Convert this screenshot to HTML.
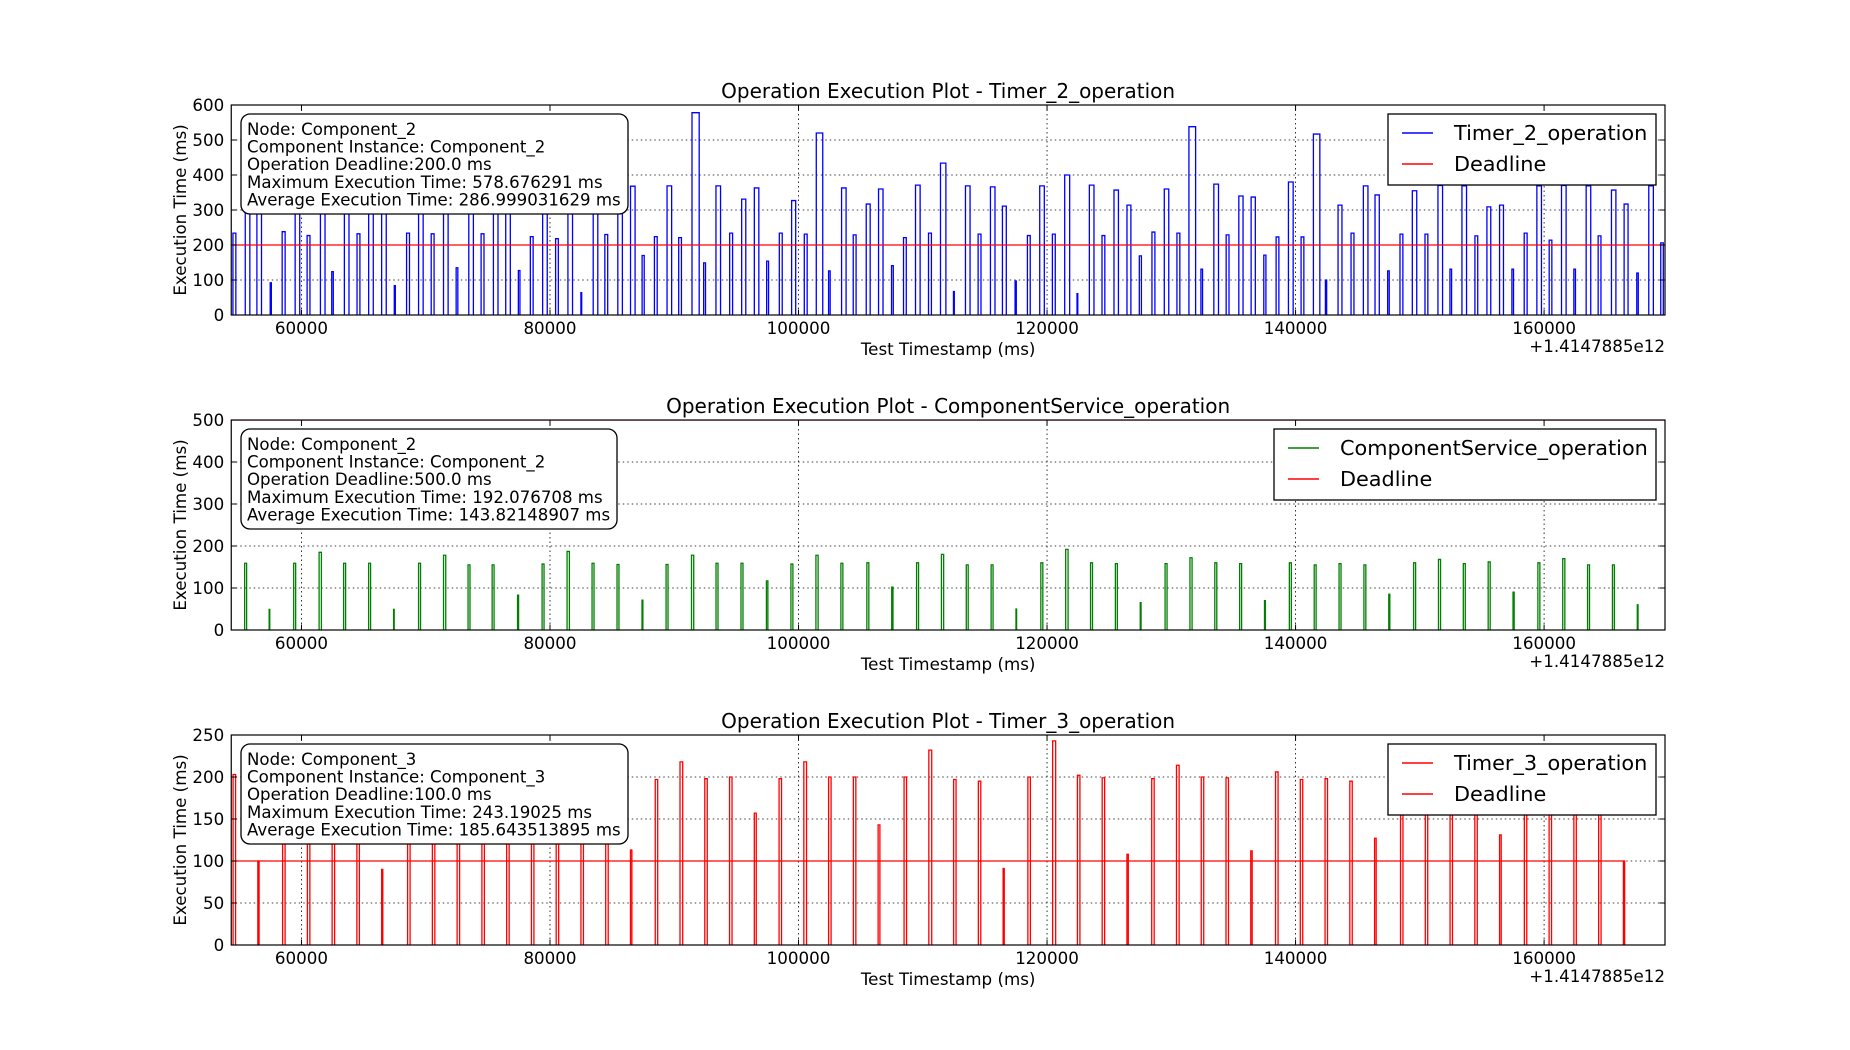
<!DOCTYPE html>
<html><head><meta charset="utf-8">
<style>
html,body{margin:0;padding:0;background:#fff;}
svg{display:block;font-family:"DejaVu Sans","Liberation Sans",sans-serif;}
</style></head>
<body>
<svg id="fig" width="1850" height="1050" viewBox="0 0 1850 1050" xmlns="http://www.w3.org/2000/svg"></svg>
<script>
// ---------- DATA ----------
const xTickValues = [60000, 80000, 100000, 120000, 140000, 160000];
const xTickLabels = ["60000", "80000", "100000", "120000", "140000", "160000"];

const t2Times = [54485,55476,56413,57484,58447,59491,60455,61526,62436,63453,64471,65408,66452,67469,68459,69423,70440,71431,72448,73465,74456,75446,76437,77454,78418,79408,80452,81443,82487,83477,84414,85458,86480,87412,88403,89420,90357,91428,92365,93356,94460,95425,96444,97435,98454,99445,100464,101429,102420,103465,104403,105449,106440,107485,108450,109415,110460,111425,112470,113435,114453,115445,116410,117428,118420,119411,120430,121421,122413,123405,124423,125388,126433,127425,128443,129435,130453,131418,132383,133423,134414,135433,136424,137443,138434,139426,140444,141436,142401,143419,144464,145456,146394,147412,148404,149396,150414,151459,152424,153389,154434,155399,156417,157409,158400,159419,160410,161402,162394,163385,164350,165422,166440,167459,168424,169388];
const t2Values = [234,370,370,92,238,370,227,370,124,370,232,370,370,84,234,370,232,370,135,370,232,370,370,127,224,370,218,370,64,370,230,367,368,170,224,369,221,578,149,369,234,331,363,154,234,327,231,520,126,363,229,317,360,141,221,371,234,434,67,369,231,366,311,97,227,369,231,400,61,371,227,357,314,169,237,360,234,538,131,374,229,340,337,171,223,380,223,517,100,314,234,369,343,126,231,355,231,370,131,369,226,309,314,131,234,369,214,370,131,369,226,357,317,120,369,206];

const csTimes = [55426,57400,59373,61419,63393,65403,67413,69423,71433,73406,75344,77390,79364,81374,83384,85394,87404,89342,91388,93361,95371,97417,99390,101400,103410,105500,107500,109500,111500,113500,115500,117500,119500,121500,123500,125500,127500,129500,131500,133500,135500,137500,139500,141500,143500,145500,147500,149500,151500,153500,155500,157500,159500,161500,163500,165500,167500];
const csValues = [159,49,159,185,159,159,49,159,178,155,155,83,157,187,159,156,71,156,178,159,159,117,157,178,159,160,102,160,180,155,155,50,160,192,160,158,65,158,172,160,158,70,160,155,158,155,85,160,168,158,162,90,160,170,155,155,60];

const t3Times = [54496,56489,58482,60475,62467,64460,66453,68541,70534,72527,74520,76513,78506,80498,82491,84484,86477,88470,90463,92456,94449,96442,98435,100427,102420,104413,106406,108494,110487,112480,114473,116466,118458,120451,122444,124437,126430,128423,130416,132409,134402,136395,138387,140380,142373,144366,146359,148447,150440,152433,154426,156418,158411,160404,162397,164390,166383];
const t3Values = [203,100,200,200,200,200,90,200,200,200,200,200,200,200,200,200,113,197,218,198,200,157,198,218,200,200,143,200,232,197,195,91,200,243,202,199,108,198,214,200,199,112,206,197,198,195,127,195,195,195,195,131,195,195,195,195,100];

const yTicksTop = [0,100,200,300,400,500,600];
const yTicksMid = [0,100,200,300,400,500];
const yTicksBot = [0,50,100,150,200,250];

const deadlines = [200, 500, 100];
const titles = ["Operation Execution Plot - Timer_2_operation","Operation Execution Plot - ComponentService_operation","Operation Execution Plot - Timer_3_operation"];
const seriesNames = ["Timer_2_operation","ComponentService_operation","Timer_3_operation"];
const infoTop = ["Node: Component_2","Component Instance: Component_2","Operation Deadline:200.0 ms","Maximum Execution Time: 578.676291 ms","Average Execution Time: 286.999031629 ms"];
const infoMid = ["Node: Component_2","Component Instance: Component_2","Operation Deadline:500.0 ms","Maximum Execution Time: 192.076708 ms","Average Execution Time: 143.82148907 ms"];
const infoBot = ["Node: Component_3","Component Instance: Component_3","Operation Deadline:100.0 ms","Maximum Execution Time: 243.19025 ms","Average Execution Time: 185.643513895 ms"];

// ---------- LAYOUT ----------
const NS = "http://www.w3.org/2000/svg";
const svg = document.getElementById('fig');
const AX_L = 231.25, AX_R = 1665, AX_H = 210;
const X_MIN = 54349, X_MAX = 169730;
function xs(t){ return AX_L + (t - X_MIN) / (X_MAX - X_MIN) * (AX_R - AX_L); }

function mk(tag, attrs, parent){
  const e = document.createElementNS(NS, tag);
  for (const k in attrs) e.setAttribute(k, attrs[k]);
  (parent || svg).appendChild(e);
  return e;
}

function drawPlot(p){
  const top = p.top, bot = top + AX_H;
  const ymax = p.yTicks[p.yTicks.length-1];
  const ys = v => bot - v / ymax * AX_H;
  const g = mk('g', {});
  
  

  xTickValues.forEach(v => {
    const l = mk('line', {x1:xs(v), x2:xs(v), y1:top, y2:bot, stroke:'#000', 'stroke-width':0.8, 'stroke-dasharray':'1.5,3'}, g);
    
    
  });
  p.yTicks.forEach(v => {
    const l = mk('line', {x1:AX_L, x2:AX_R, y1:ys(v), y2:ys(v), stroke:'#000', 'stroke-width':0.8, 'stroke-dasharray':'1.5,3'}, g);
    
    
  });

  const cid = 'clip-' + p.key;
  const cp = mk('clipPath', {id:cid}, g);
  mk('rect', {x:AX_L, y:top, width:AX_R-AX_L, height:AX_H}, cp);
  const plotG = mk('g', {'clip-path':'url(#' + cid + ')'}, g);

  let d = '';
  p.times.forEach((t, i) => {
    const v = p.values[i];
    const x0 = xs(t), x1 = xs(t + v), y = ys(v);
    d += 'M' + x0.toFixed(2) + ',' + bot + 'L' + x0.toFixed(2) + ',' + y.toFixed(2) + 'L' + x1.toFixed(2) + ',' + y.toFixed(2) + 'L' + x1.toFixed(2) + ',' + bot;
  });
  const path = mk('path', {d:d, fill:'none', stroke:p.color, 'stroke-width':1.3}, plotG);
  
  

  const dx0 = p.fullDeadline ? AX_L : xs(p.times[0]);
  const lastI = p.times.length - 1;
  const dx1 = p.fullDeadline ? AX_R : xs(p.times[lastI] + p.values[lastI]);
  const dl = mk('line', {x1:dx0, x2:dx1, y1:ys(p.deadline), y2:ys(p.deadline), stroke:'#ff0000', 'stroke-width':1.3}, plotG);
  
  

  const fr = mk('rect', {x:AX_L, y:top, width:AX_R-AX_L, height:AX_H, fill:'none', stroke:'#000', 'stroke-width':1.2}, g);
  
  

  xTickValues.forEach((v, i) => {
    mk('line', {x1:xs(v), x2:xs(v), y1:bot, y2:bot-5.5, stroke:'#000', 'stroke-width':1}, g);
    mk('line', {x1:xs(v), x2:xs(v), y1:top, y2:top+5.5, stroke:'#000', 'stroke-width':1}, g);
    const tx = mk('text', {x:xs(v), y:bot+19, 'font-size':16.7, 'text-anchor':'middle', fill:'#000'}, g);
    tx.textContent = xTickLabels[i];
    
    
  });
  p.yTicks.forEach(v => {
    mk('line', {x1:AX_L, x2:AX_L+5.5, y1:ys(v), y2:ys(v), stroke:'#000', 'stroke-width':1}, g);
    mk('line', {x1:AX_R, x2:AX_R-5.5, y1:ys(v), y2:ys(v), stroke:'#000', 'stroke-width':1}, g);
    const ty = mk('text', {x:AX_L-7, y:ys(v)+6, 'font-size':16.7, 'text-anchor':'end', fill:'#000'}, g);
    ty.textContent = String(v);
    
    
  });

  const ti = mk('text', {x:(AX_L+AX_R)/2, y:top-7, 'font-size':20, 'text-anchor':'middle', fill:'#000'}, g);
  ti.textContent = p.title;
  
  
  const xl = mk('text', {x:(AX_L+AX_R)/2, y:bot+40, 'font-size':16.7, 'text-anchor':'middle', fill:'#000'}, g);
  xl.textContent = 'Test Timestamp (ms)';
  
  
  const off = mk('text', {x:AX_R, y:bot+37, 'font-size':16.7, 'text-anchor':'end', fill:'#000'}, g);
  off.textContent = '+1.4147885e12';
  
  
  const cy = top + AX_H/2;
  const yl = mk('text', {x:0, y:0, 'font-size':16.7, 'text-anchor':'middle', fill:'#000', transform:'translate(186,' + cy + ') rotate(-90)'}, g);
  yl.textContent = 'Execution Time (ms)';
  
  

  const ib = mk('g', {}, g);
  
  
  mk('rect', {x:241, y:top+9, width:p.boxW, height:100, rx:9, ry:9, fill:'#fff', stroke:'#000', 'stroke-width':1.3}, ib);
  p.info.forEach((s, i) => {
    const t = mk('text', {x:247, y:top+30+i*17.6, 'font-size':16.6, fill:'#000'}, ib);
    t.textContent = s;
  });

  const lg = mk('g', {}, g);
  
  
  const lx = p.legX, ly = top + 9;
  mk('rect', {x:lx, y:ly, width:1656-lx, height:71, fill:'#fff', stroke:'#000', 'stroke-width':1.3}, lg);
  const e1 = mk('g', {}, lg);
  
  
  mk('line', {x1:lx+14, x2:lx+45, y1:ly+19, y2:ly+19, stroke:p.color, 'stroke-width':1.5}, e1);
  const lt1 = mk('text', {x:lx+66, y:ly+26, 'font-size':20.8, fill:'#000'}, e1);
  lt1.textContent = p.name;
  const e2 = mk('g', {}, lg);
  
  
  mk('line', {x1:lx+14, x2:lx+45, y1:ly+50, y2:ly+50, stroke:'#ff0000', 'stroke-width':1.5}, e2);
  const lt2 = mk('text', {x:lx+66, y:ly+57, 'font-size':20.8, fill:'#000'}, e2);
  lt2.textContent = 'Deadline';
}

drawPlot({key:'timer2', top:105, yTicks:yTicksTop, times:t2Times, values:t2Values, color:'#0000ff', deadline:deadlines[0], fullDeadline:true, title:titles[0], name:seriesNames[0], info:infoTop, boxW:387, legX:1388});
drawPlot({key:'component-service', top:420, yTicks:yTicksMid, times:csTimes, values:csValues, color:'#008000', deadline:deadlines[1], fullDeadline:true, title:titles[1], name:seriesNames[1], info:infoMid, boxW:376, legX:1274});
drawPlot({key:'timer3', top:735, yTicks:yTicksBot, times:t3Times, values:t3Values, color:'#ff0000', deadline:deadlines[2], fullDeadline:false, title:titles[2], name:seriesNames[2], info:infoBot, boxW:387, legX:1388});
</script>
</body></html>
